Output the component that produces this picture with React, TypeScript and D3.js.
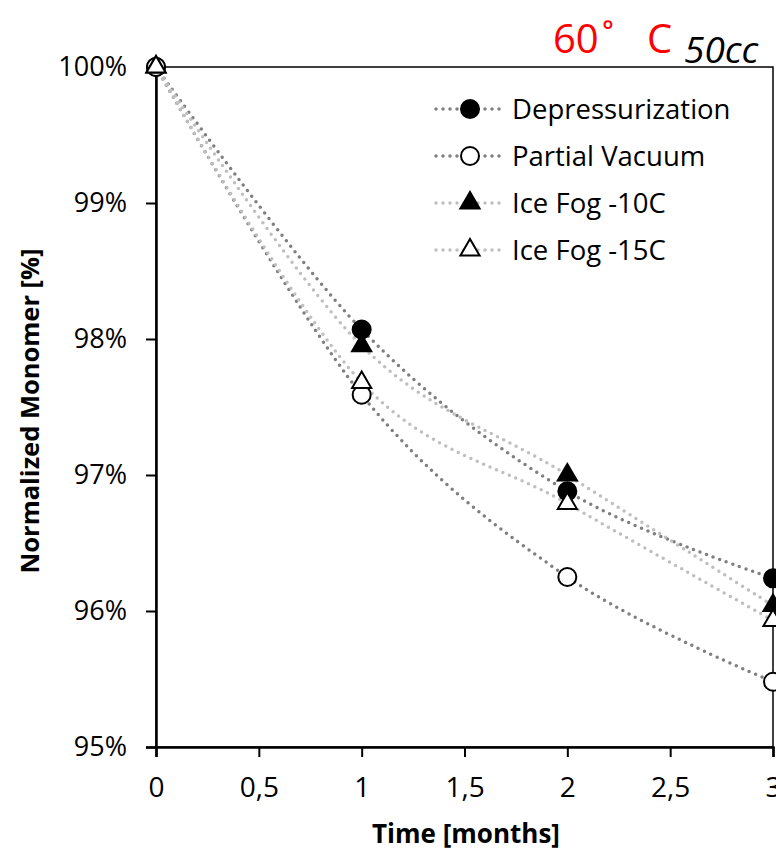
import React from "react";
import * as d3 from "d3";

const months = [0, 1, 2, 3];
const depressurization = [100, 98.07, 96.88, 96.24];
const partialVacuum = [100, 97.59, 96.25, 95.48];
const iceFog10 = [100, 97.95, 97.0, 96.04];
const iceFog15 = [100, 97.68, 96.79, 95.93];
const xTicks = [0, 0.5, 1, 1.5, 2, 2.5, 3];
const yTicks = [95, 96, 97, 98, 99, 100];

const seriesList = [
  { name: "Depressurization", values: depressurization, color: "#7f7f7f", marker: "circle", fill: "#000" },
  { name: "Partial Vacuum", values: partialVacuum, color: "#7f7f7f", marker: "circle", fill: "#fff" },
  { name: "Ice Fog -10C", values: iceFog10, color: "#bfbfbf", marker: "triangle", fill: "#000" },
  { name: "Ice Fog -15C", values: iceFog15, color: "#bfbfbf", marker: "triangle", fill: "#fff" },
];

const FONT = "'Open Sans', sans-serif";

const App = () => {
  const svgRef = React.useRef<SVGSVGElement | null>(null);
  const width = 776;
  const height = 851;
  const margin = { top: 67, left: 156, right: 3, bottom: 104 };

  React.useEffect(() => {
    const innerW = width - margin.left - margin.right;
    const innerH = height - margin.top - margin.bottom;
    const x = d3.scaleLinear().domain([0, 3]).range([0, innerW]);
    const y = d3.scaleLinear().domain([95, 100]).range([innerH, 0]);

    const svgEl = d3.select(svgRef.current);
    svgEl.selectAll("*").remove();
    svgEl.append("rect").attr("width", width).attr("height", height).attr("fill", "#fff");
    const svg = svgEl.append("g").attr("transform", `translate(${margin.left},${margin.top})`);

    // plot border (top / right)
    svg.append("rect")
      .attr("width", innerW).attr("height", innerH)
      .attr("fill", "none").attr("stroke", "#000").attr("stroke-width", 1.5);

    // x axis
    const xAxis = d3.axisBottom(x).tickValues(xTicks).tickSize(10).tickPadding(20)
      .tickFormat((d) => String(d).replace(".", ","));
    const xg = svg.append("g").attr("transform", `translate(0,${innerH})`).call(xAxis);
    xg.select(".domain").attr("stroke-width", 2.5);
    xg.selectAll("line").attr("stroke-width", 2);
    xg.selectAll("text").attr("font-family", FONT).attr("font-size", 28).attr("fill", "#000");

    // y axis
    const yAxis = d3.axisLeft(y).tickValues(yTicks).tickSize(10).tickPadding(19)
      .tickFormat((d) => `${d}%`);
    const yg = svg.append("g").call(yAxis);
    yg.select(".domain").attr("stroke-width", 2.5);
    yg.selectAll("line").attr("stroke-width", 2);
    yg.selectAll("text").attr("font-family", FONT).attr("font-size", 27).attr("fill", "#000");

    // axis titles
    svgEl.append("text")
      .attr("x", 466).attr("y", 843)
      .attr("text-anchor", "middle")
      .attr("font-family", FONT).attr("font-weight", "bold").attr("font-size", 26)
      .text("Time [months]");
    svgEl.append("text")
      .attr("transform", `translate(39,${margin.top + innerH / 2 + 4}) rotate(-90)`)
      .attr("text-anchor", "middle")
      .attr("font-family", FONT).attr("font-weight", "bold").attr("font-size", 25.5)
      .text("Normalized Monomer [%]");

    // title
    const title = svgEl.append("text")
      .attr("y", 53)
      .attr("font-family", FONT).attr("font-size", 40).attr("fill", "#ff0000");
    title.append("tspan").attr("x", 553).text("60");
    title.append("tspan").attr("x", 602).text("˚");
    title.append("tspan").attr("x", 647).text("C");
    svgEl.append("text")
      .attr("x", 684).attr("y", 63)
      .attr("font-family", FONT).attr("font-style", "italic").attr("font-size", 37).attr("fill", "#000")
      .text("50cc");

    // lines
    const line = d3.line<number>()
      .x((_, i) => x(months[i]))
      .y((d) => y(d))
      .curve(d3.curveCatmullRom.alpha(0));

    const drawMarker = (g, s, cx, cy) => {
      if (s.marker === "circle") {
        g.append("circle")
          .attr("cx", cx).attr("cy", cy).attr("r", 9)
          .attr("fill", s.fill).attr("stroke", "#000").attr("stroke-width", 2);
      } else {
        g.append("path")
          .attr("transform", `translate(${cx},${cy})`)
          .attr("d", d3.symbol(d3.symbolTriangle, 160)())
          .attr("fill", s.fill).attr("stroke", "#000").attr("stroke-width", 2);
      }
    };

    seriesList.forEach((s) => {
      svg.append("path")
        .attr("d", line(s.values))
        .attr("fill", "none")
        .attr("stroke", s.color)
        .attr("stroke-width", 3.5)
        .attr("stroke-linecap", "round")
        .attr("stroke-dasharray", "0 7");
    });
    seriesList.forEach((s) => {
      s.values.forEach((v, i) => drawMarker(svg, s, x(months[i]), y(v)));
    });

    // legend
    const legend = svgEl.append("g");
    seriesList.forEach((s, i) => {
      const ly = 109 + i * 47;
      legend.append("line")
        .attr("x1", 436).attr("x2", 502).attr("y1", ly).attr("y2", ly)
        .attr("stroke", s.color).attr("stroke-width", 3.5)
        .attr("stroke-linecap", "round").attr("stroke-dasharray", "0 7");
      drawMarker(legend, s, 470, ly);
      legend.append("text")
        .attr("x", 512).attr("y", ly).attr("dy", "0.35em")
        .attr("font-family", FONT).attr("font-size", 27.5).attr("fill", "#000")
        .text(s.name);
    });
  }, []);

  return (
    <div style={{ position: "absolute", left: 0, top: 0 }}>
      <svg ref={svgRef} width={width} height={height} style={{ display: "block" }} />
    </div>
  );
};

export default App;
